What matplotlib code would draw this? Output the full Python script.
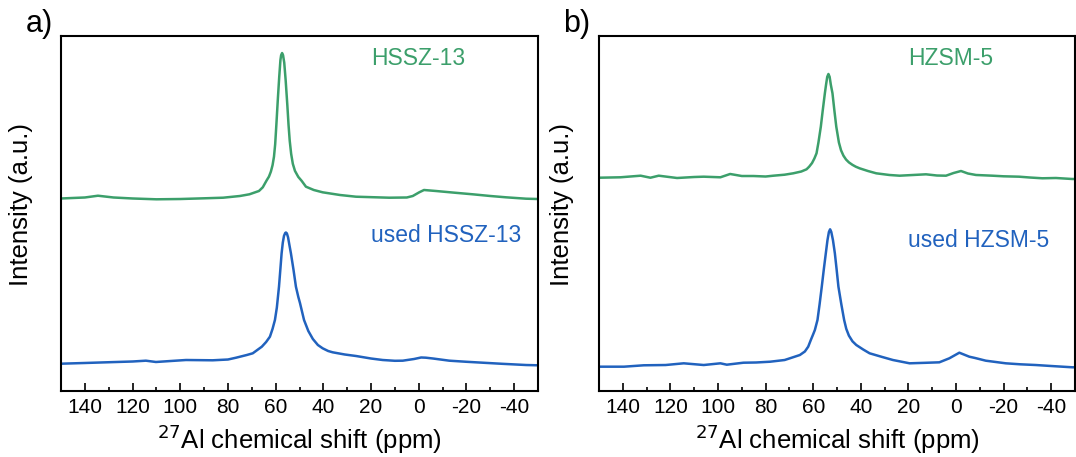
import matplotlib
matplotlib.use("Agg")
import matplotlib.pyplot as plt
from matplotlib.ticker import MultipleLocator

plt.rcParams["font.family"] = ["Liberation Sans", "DejaVu Sans"]
plt.rcParams["axes.unicode_minus"] = False

# 27Al MAS NMR spectra (chemical shift in ppm, stacked intensity in a.u.)
ssz13_ppm = [150, 140, 134.5, 128, 120, 110, 100, 90, 82, 75, 71, 67, 65.4, 63.8,
             62.8, 62.0, 61.3, 60.7, 60.2, 59.7, 59.1, 58.5, 58.0, 57.7, 57.3, 56.9,
             56.4, 55.8, 55.1, 54.6, 54.1, 53.5, 52.8, 51.9, 50.5, 49.1, 47.3, 44,
             40.3, 33, 26.3, 12.4, 5, 2.5, -0.2, -2.2, -7.2, -15, -22.6, -30, -36.6,
             -45, -50]
ssz13_int = [54.23, 54.51, 55.01, 54.51, 54.23, 54.00, 54.08, 54.28, 54.45, 54.93,
             55.41, 56.34, 57.38, 59.30, 60.40, 61.80, 63.60, 66.00, 69.50, 75.00,
             82.00, 88.50, 93.20, 94.60, 95.20, 94.60, 92.50, 87.50, 80.50, 75.00,
             70.50, 66.80, 64.00, 62.00, 60.30, 59.20, 57.55, 56.62, 55.97, 55.21,
             54.73, 54.45, 54.51, 54.93, 55.97, 56.62, 56.34, 55.86, 55.41, 54.93,
             54.56, 54.17, 54.08]

used_ssz13_ppm = [150, 140, 131.1, 120, 114.4, 110.2, 104, 97.6, 86.4, 80, 76.6, 72.1,
                  69.6, 65.8, 64, 62.4, 61.3, 60.3, 59.5, 58.6, 58.0, 57.5, 57.0, 56.5,
                  56.0, 55.7, 55.3, 54.8, 54.2, 53.6, 52.5, 51.5, 50.5, 49.8, 48.1,
                  46.3, 44.4, 42.3, 40.3, 38, 36.1, 31, 26.3, 20, 15.1, 10, 6.7, 2, -1,
                  -3, -6, -12.8, -20, -26.8, -35, -45, -50]
used_ssz13_int = [7.69, 7.89, 8.08, 8.31, 8.54, 8.17, 8.45, 8.73, 8.65, 8.87, 9.38,
                  10.14, 10.62, 12.48, 13.80, 15.30, 17.50, 20.00, 23.50, 29.38, 34.50,
                  38.79, 41.80, 43.70, 44.50, 44.65, 44.40, 43.30, 41.00, 38.79, 34.08,
                  29.38, 26.50, 24.79, 20.00, 16.90, 14.65, 12.96, 12.03, 11.27, 10.90,
                  10.28, 9.86, 9.15, 8.73, 8.51, 8.54, 9.01, 9.44, 9.38, 9.15, 8.54,
                  8.23, 7.97, 7.66, 7.32, 7.24]

zsm5_ppm = [150, 141, 132.5, 128.4, 124.9, 117.2, 110, 106, 99, 94.9, 90, 85.1, 80,
            76.7, 72, 68.4, 65, 62.8, 61.7, 60.5, 59.5, 58.6, 57.8, 56.8, 56.0, 55.1,
            54.6, 54.1, 53.6, 53.1, 52.6, 51.9, 51.1, 50.3, 49.2, 48.3, 47.3, 46.2,
            45.0, 43.5, 42.1, 40.5, 37, 33.5, 28, 23.7, 18, 12.6, 8, 4.2, 1, -2.1, -5,
            -8.4, -15.3, -20, -26.5, -31, -36.3, -42, -48.8, -50]
zsm5_int = [60.08, 60.20, 60.65, 60.08, 60.65, 60.00, 60.28, 60.37, 60.20, 61.13,
            60.56, 60.56, 60.42, 60.65, 60.93, 61.32, 61.83, 62.45, 63.18, 64.20,
            65.50, 66.96, 70.00, 74.45, 79.00, 83.86, 86.30, 88.50, 89.30, 88.50,
            86.30, 83.86, 79.00, 74.45, 70.00, 67.80, 66.30, 65.20, 64.40, 63.70,
            63.18, 62.73, 61.97, 61.32, 60.85, 60.65, 60.85, 61.04, 60.70, 60.65,
            61.41, 61.97, 61.27, 60.85, 60.65, 60.48, 60.37, 60.14, 59.92, 60.00,
            59.72, 59.72]

used_zsm5_ppm = [150, 139.5, 131.2, 122, 114.4, 106, 99, 96.3, 89.3, 84, 78.1, 72,
                 69.8, 65.6, 63.5, 62.1, 61, 60, 59.3, 58.2, 57.3, 56.4, 55.5, 54.7,
                 54.0, 53.4, 52.9, 52.4, 51.7, 50.9, 50.2, 49.4, 48.2, 47, 46.1, 45.0,
                 43.5, 41.9, 39, 36.3, 31, 26.5, 19.5, 13, 7, 2.8, -1.4, -5.6, -8,
                 -12.5, -20.9, -27, -33.5, -40, -48.8, -50]
used_zsm5_int = [6.85, 6.85, 7.24, 7.32, 7.80, 7.32, 7.80, 7.41, 7.97, 8.03, 8.25,
                 8.73, 9.21, 10.14, 11.13, 12.48, 14.37, 16.00, 17.18, 20.00, 24.50,
                 29.38, 34.50, 38.79, 42.50, 44.80, 45.55, 44.80, 42.50, 38.79, 34.50,
                 29.38, 24.50, 20.00, 17.50, 15.60, 14.00, 12.96, 11.69, 10.62, 9.58,
                 8.73, 7.80, 7.94, 8.08, 9.21, 10.79, 9.66, 9.30, 8.54, 7.80, 7.52,
                 7.32, 7.04, 6.68, 6.68]

panel_tags = ["a)", "b)"]
fresh_names = ["HSSZ-13", "HZSM-5"]
used_names = ["used HSSZ-13", "used HZSM-5"]
fresh_label_y = [93.8, 93.8]
used_label_y = [43.7, 42.5]

GREEN = "#3c9f6b"
BLUE = "#2162be"

fig = plt.figure(figsize=(10.76, 4.57), dpi=100)
ax_a = fig.add_axes([61 / 1076, 66 / 457, 477 / 1076, 355 / 457])
ax_b = fig.add_axes([599 / 1076, 66 / 457, 476 / 1076, 355 / 457])

spectra = [
    (ssz13_ppm, ssz13_int, used_ssz13_ppm, used_ssz13_int),
    (zsm5_ppm, zsm5_int, used_zsm5_ppm, used_zsm5_int),
]
ylabel_x = [-0.058, -0.053]

for i, ax in enumerate([ax_a, ax_b]):
    fx, fy, ux, uy = spectra[i]
    ax.plot(fx, fy, color=GREEN, lw=1.8, solid_joinstyle="round")
    ax.plot(ux, uy, color=BLUE, lw=1.8, solid_joinstyle="round")
    ax.set_xlim(150, -50)
    ax.set_ylim(0, 100)
    ax.xaxis.set_major_locator(MultipleLocator(20))
    ax.xaxis.set_minor_locator(MultipleLocator(10))
    ax.tick_params(axis="x", which="major", direction="in", length=6, width=1.2,
                   labelsize=15, pad=5)
    ax.tick_params(axis="x", which="minor", direction="in", length=3, width=1.2)
    ax.set_yticks([])
    for sp in ax.spines.values():
        sp.set_linewidth(1.5)
    ax.set_xlabel(r"$^{27}$Al chemical shift (ppm)", fontsize=18.5, labelpad=4)
    ax.set_ylabel("Intensity (a.u.)", fontsize=18.5)
    ax.yaxis.set_label_coords(ylabel_x[i], 0.525)
    ax.text(20, fresh_label_y[i], fresh_names[i], color=GREEN, fontsize=16.5,
            ha="left", va="center")
    ax.text(20, used_label_y[i], used_names[i], color=BLUE, fontsize=16.5,
            ha="left", va="center")

fig.text(39 / 1076, 1 - 24 / 457, panel_tags[0], fontsize=22, ha="center", va="center")
fig.text(577 / 1076, 1 - 24 / 457, panel_tags[1], fontsize=22, ha="center", va="center")

fig.savefig("out.png", dpi=100)
